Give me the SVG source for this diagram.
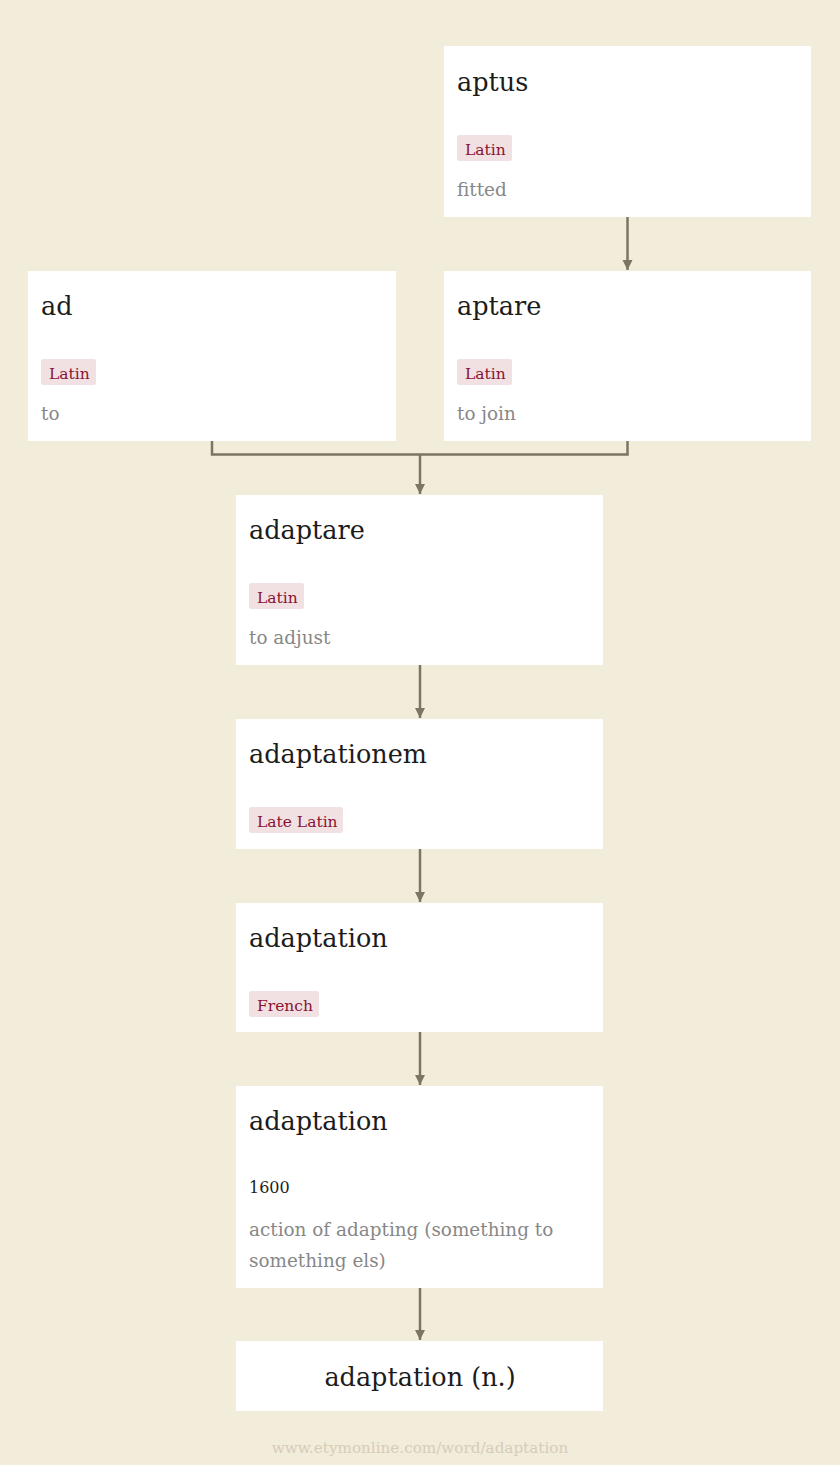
<svg xmlns="http://www.w3.org/2000/svg" width="840" height="1465" viewBox="0 0 840 1465">
<defs>
<style>
.bg{fill:#f2ecda}
.box{fill:#ffffff}
.title{font-family:"DejaVu Serif","Liberation Serif",serif;font-size:25.5px;fill:#1c1c1c}
.tagbg{fill:#f1e1e3}
.tag{font-family:"DejaVu Serif","Liberation Serif",serif;font-size:15.5px;fill:#8a1230}
.desc{font-family:"DejaVu Serif","Liberation Serif",serif;font-size:18.4px;fill:#878787}
.year{font-family:"DejaVu Serif","Liberation Serif",serif;font-size:16px;fill:#1c1c1c}
.foot{font-family:"DejaVu Serif","Liberation Serif",serif;font-size:15.2px;fill:#d6cdb9}
.edge{fill:none;stroke:#7b7562;stroke-width:2.5}
</style>
<marker id="arr" viewBox="0 0 10 10" refX="10" refY="5" markerWidth="10" markerHeight="11" markerUnits="userSpaceOnUse" orient="auto">
<path d="M0,0 L10,5 L0,10 z" fill="#7b7562"/>
</marker>
</defs>
<rect class="bg" x="0" y="0" width="840" height="1465"/>

<g id="connectors">
<path class="edge" d="M627.5,217 V270" marker-end="url(#arr)"/>
<path class="edge" d="M212,441 V454.5 H627.5 V441"/>
<path class="edge" d="M420,454.5 V494" marker-end="url(#arr)"/>
<path class="edge" d="M420,665 V718" marker-end="url(#arr)"/>
<path class="edge" d="M420,849 V902" marker-end="url(#arr)"/>
<path class="edge" d="M420,1032 V1085" marker-end="url(#arr)"/>
<path class="edge" d="M420,1288 V1340" marker-end="url(#arr)"/>
</g>

<g id="node-aptus">
<rect class="box" x="444" y="46" width="367" height="171"/>
<text class="title" x="457" y="91">aptus</text>
<rect class="tagbg" x="457" y="135" width="55" height="26" rx="2"/>
<text class="tag" x="465" y="155">Latin</text>
<text class="desc" x="457" y="196">fitted</text>
</g>

<g id="node-ad">
<rect class="box" x="28" y="271" width="368" height="170"/>
<text class="title" x="41" y="315">ad</text>
<rect class="tagbg" x="41" y="359" width="55" height="26" rx="2"/>
<text class="tag" x="49" y="379">Latin</text>
<text class="desc" x="41" y="420">to</text>
</g>

<g id="node-aptare">
<rect class="box" x="444" y="271" width="367" height="170"/>
<text class="title" x="457" y="315">aptare</text>
<rect class="tagbg" x="457" y="359" width="55" height="26" rx="2"/>
<text class="tag" x="465" y="379">Latin</text>
<text class="desc" x="457" y="420">to join</text>
</g>

<g id="node-adaptare">
<rect class="box" x="236" y="495" width="367" height="170"/>
<text class="title" x="249" y="539">adaptare</text>
<rect class="tagbg" x="249" y="583" width="55" height="26" rx="2"/>
<text class="tag" x="257" y="603">Latin</text>
<text class="desc" x="249" y="644">to adjust</text>
</g>

<g id="node-adaptationem">
<rect class="box" x="236" y="719" width="367" height="130"/>
<text class="title" x="249" y="763">adaptationem</text>
<rect class="tagbg" x="249" y="807" width="94" height="26" rx="2"/>
<text class="tag" x="257" y="827">Late Latin</text>
</g>

<g id="node-adaptation-fr">
<rect class="box" x="236" y="903" width="367" height="129"/>
<text class="title" x="249" y="947">adaptation</text>
<rect class="tagbg" x="249" y="991" width="70" height="26" rx="2"/>
<text class="tag" x="257" y="1011">French</text>
</g>

<g id="node-adaptation-1600">
<rect class="box" x="236" y="1086" width="367" height="202"/>
<text class="title" x="249" y="1130">adaptation</text>
<text class="year" x="249" y="1193">1600</text>
<text class="desc" x="249" y="1236">action of adapting (something to</text>
<text class="desc" x="249" y="1267">something els)</text>
</g>

<g id="node-adaptation-n">
<rect class="box" x="236" y="1341" width="367" height="70"/>
<text class="title" x="420" y="1386" text-anchor="middle">adaptation (n.)</text>
</g>

<text class="foot" x="420" y="1453" text-anchor="middle">www.etymonline.com/word/adaptation</text>
</svg>
